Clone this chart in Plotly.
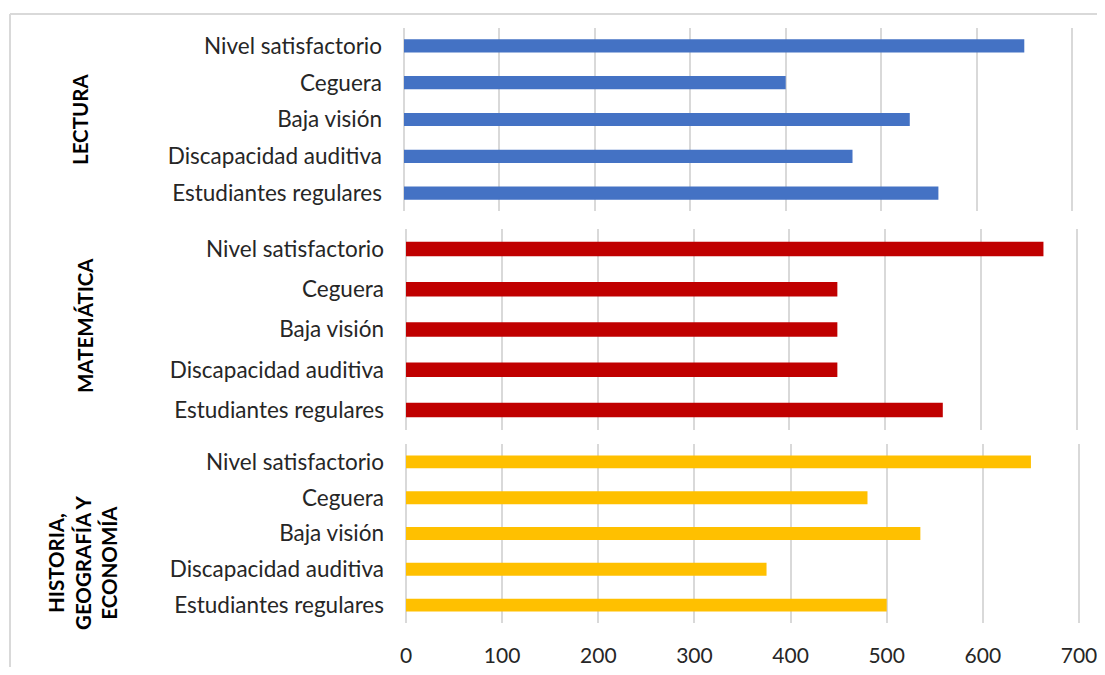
import plotly.graph_objects as go

categories = ["Estudiantes regulares", "Discapacidad auditiva", "Baja visión", "Ceguera", "Nivel satisfactorio"]
lectura = [560, 470, 530, 400, 650]
matematica = [560, 450, 450, 450, 665]
historia = [500, 375, 535, 480, 650]
groups = ["LECTURA", "MATEMÁTICA", "HISTORIA,<br>GEOGRAFÍA Y<br>ECONOMÍA"]
colors = ["#4472C4", "#C00000", "#FFC000"]
x_ticks = [0, 100, 200, 300, 400, 500, 600, 700]

OFF = 8
W, H = 1089, 659
def px_x(p): return (p - OFF) / W
def px_y(p): return 1 - (p - OFF) / H

fig = go.Figure()
series = [lectura, matematica, historia]
# (x at 0, x at 700, ytop, ybottom) in pixels of the final picture
panels = [(404, 1072, 27.6, 211.4), (406, 1077, 229, 430), (406, 1079, 444, 623)]
XMAX = 704
font_fam = "Lato, 'Open Sans', Arial, sans-serif"

layout = dict(width=W, height=H, margin=dict(l=0, r=0, t=0, b=0, autoexpand=False),
              plot_bgcolor="white", paper_bgcolor="white", showlegend=False,
              font=dict(family=font_fam, color="#262626"))
for i, (vals, col, pan) in enumerate(zip(series, colors, panels)):
    n = "" if i == 0 else str(i + 1)
    fig.add_trace(go.Bar(y=categories, x=vals, orientation="h", marker=dict(color=col, line=dict(width=0)),
                         width=0.36, xaxis="x" + n, yaxis="y" + n))
    x0, x7, yt, yb = pan
    x1 = x0 + (x7 - x0) * XMAX / 700
    layout["xaxis" + n] = dict(domain=[px_x(x0), px_x(x1)], range=[0, XMAX], tickvals=x_ticks,
                               showgrid=True, gridcolor="#d9d9d9", gridwidth=1.5,
                               zeroline=True, zerolinecolor="#d9d9d9", zerolinewidth=1.5,
                               showline=False, showticklabels=(i == 2), anchor="y" + n,
                               tickfont=dict(size=21, color="#262626", family=font_fam),
                               ticklabelstandoff=18, ticklabeloverflow="allow",
                               automargin=False, fixedrange=True)
    layout["yaxis" + n] = dict(domain=[px_y(yb), px_y(yt)], range=[-0.5, 4.5], type="category",
                               categoryorder="array", categoryarray=categories,
                               showgrid=False, zeroline=False, showline=False, anchor="x" + n,
                               tickfont=dict(size=22.5, color="#262626", family=font_fam),
                               ticklabelstandoff=21, automargin=False, fixedrange=True)
fig.update_layout(**layout)

label_x = [80, 85, 82]
label_y = [120, 326, 563]
for g, lx, ly in zip(groups, label_x, label_y):
    fig.add_annotation(text="<b>" + g + "</b>", x=px_x(lx), y=px_y(ly), xref="paper", yref="paper",
                       xanchor="center", yanchor="middle",
                       textangle=-90, showarrow=False, font=dict(size=20.5, color="black", family=font_fam),
                       align="center")

# outer frame (top and left edges visible)
fig.add_shape(type="line", xref="paper", yref="paper", x0=px_x(10), x1=1, y0=px_y(14), y1=px_y(14),
              line=dict(color="#d9d9d9", width=2), layer="below")
fig.add_shape(type="line", xref="paper", yref="paper", x0=px_x(10), x1=px_x(10), y0=px_y(14), y1=0,
              line=dict(color="#d9d9d9", width=2), layer="below")

fig.write_html("out.html")
